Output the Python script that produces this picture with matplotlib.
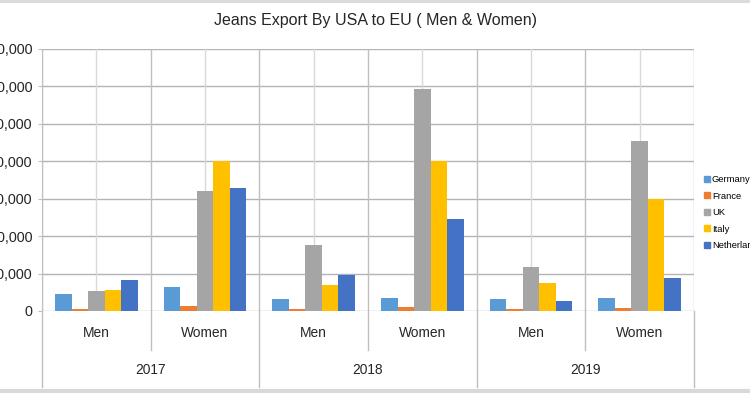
import matplotlib.pyplot as plt
from matplotlib.lines import Line2D
from matplotlib.patches import Patch
from matplotlib import font_manager
import numpy as np

COUNTRIES = ['Germany', 'France', 'UK', 'Italy', 'Netherlands']
COLOURS = {
    'Germany': '#5B9BD5',
    'France': '#ED7D31',
    'UK': '#A5A5A5',
    'Italy': '#FFC000',
    'Netherlands': '#4472C4',
}

YEARS = ['2017', '2018', '2019']
GENDERS = ['Men', 'Women']

# one value per (year, gender) category, in order 2017 Men, 2017 Women, ...
GERMANY = [4500, 6400, 3200, 3400, 3200, 3400]
FRANCE = [500, 1300, 500, 1100, 500, 800]
UK = [5400, 32100, 17600, 59400, 11700, 45500]
ITALY = [5700, 40200, 7000, 40000, 7600, 30000]
NETHERLANDS = [8300, 32900, 9500, 24700, 2600, 8800]

Y_TICKS = [0, 10000, 20000, 30000, 40000, 50000, 60000, 70000]

installed = {f.name for f in font_manager.fontManager.ttflist}
narrow = 'Liberation Sans Narrow' in installed
FONT = ['Liberation Sans Narrow' if narrow else 'Liberation Sans', 'DejaVu Sans']
plt.rcParams['font.family'] = FONT
scale = 1.0 if narrow else 0.9

series = dict(zip(COUNTRIES, [GERMANY, FRANCE, UK, ITALY, NETHERLANDS]))

fig = plt.figure(figsize=(7.5, 3.93), dpi=100)
ax = fig.add_axes([42 / 750, 1 - 311 / 393, 652 / 750, 262 / 393])

n_cat = len(YEARS) * len(GENDERS)
centres = np.arange(n_cat) + 0.5
width = 0.152

for k, country in enumerate(COUNTRIES):
    ax.bar(centres + (k - 2) * width, series[country], width=width,
           color=COLOURS[country], label=country, zorder=3)

ax.set_xlim(0, n_cat)
ax.set_ylim(0, Y_TICKS[-1])
ax.set_yticks(Y_TICKS)
ax.set_yticklabels([f'{v:,}' for v in Y_TICKS], fontsize=11 * scale + 0.5,
                   color='#262626')
ax.tick_params(axis='y', length=3, color='#BFBFBF', pad=4)
ax.set_xticks([])

for s in ['top', 'right', 'bottom']:
    ax.spines[s].set_visible(False)
ax.spines['left'].set_color('#BFBFBF')

for v in Y_TICKS:
    ax.axhline(v, color='#B3B3B3', lw=1, zorder=1)

for i in range(n_cat + 1):
    ax.axvline(i, color='#BFBFBF', lw=1, zorder=1)
for c in centres:
    ax.axvline(c, color='#D9D9D9', lw=1, zorder=1)

trans = ax.get_xaxis_transform()
for i, c in enumerate(centres):
    ax.text(c, -0.084, GENDERS[i % 2], transform=trans, ha='center', va='center',
            fontsize=11 * scale, color='#262626')
for j, year in enumerate(YEARS):
    ax.text(2 * j + 1, -0.225, year, transform=trans, ha='center', va='center',
            fontsize=11 * scale, color='#262626')

for i in range(n_cat + 1):
    bottom = -0.29 if i % 2 == 0 else -0.149
    ax.add_line(Line2D([i, i], [0, bottom], transform=trans, color='#BFBFBF',
                       lw=1, clip_on=False))

fig.text(0.5, 1 - 20 / 393, 'Jeans Export By USA to EU ( Men & Women)',
         ha='center', va='center', fontsize=12.8 * scale, color='#262626')

handles = [Patch(color=COLOURS[c]) for c in COUNTRIES]
fig.legend(handles, COUNTRIES, loc='upper left',
           bbox_to_anchor=(704 / 750, 1 - 175 / 393), frameon=False,
           fontsize=7.5 * scale, handlelength=0.6, handleheight=0.6,
           handletextpad=0.25, labelspacing=0.8, borderpad=0, borderaxespad=0)

fig.add_artist(Line2D([0, 1], [1 - 1 / 393, 1 - 1 / 393], color='#D9D9D9', lw=2))
fig.add_artist(Line2D([0, 1], [2 / 393, 2 / 393], color='#D9D9D9', lw=3))

fig.savefig('out.png', dpi=100)
